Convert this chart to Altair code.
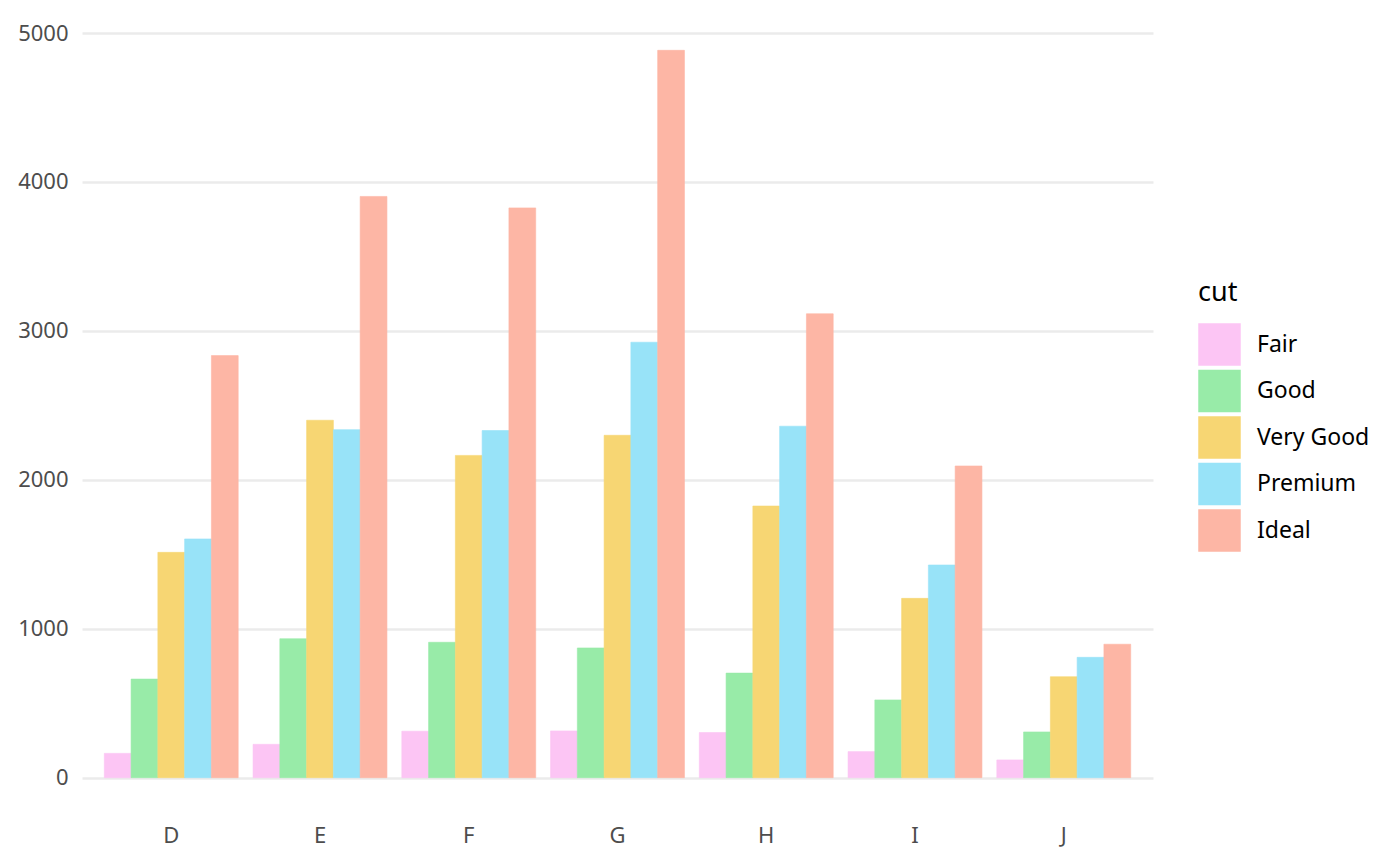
import altair as alt
import pandas as pd

colors = ["D", "E", "F", "G", "H", "I", "J"]
cuts = ["Fair", "Good", "Very Good", "Premium", "Ideal"]
fair = [163, 224, 312, 314, 303, 175, 119]
good = [662, 933, 909, 871, 702, 522, 307]
very_good = [1513, 2400, 2164, 2299, 1824, 1204, 678]
premium = [1603, 2337, 2331, 2924, 2360, 1428, 808]
ideal = [2834, 3903, 3826, 4884, 3115, 2093, 896]
palette = ["#FCC5F4", "#98EBA8", "#F7D673", "#98E3F8", "#FDB6A5"]
y_ticks = [0, 1000, 2000, 3000, 4000, 5000]

series = {"Fair": fair, "Good": good, "Very Good": very_good, "Premium": premium, "Ideal": ideal}
rows = []
for cut in cuts:
    for c, v in zip(colors, series[cut]):
        rows.append({"color": c, "cut": cut, "count": v})
df = pd.DataFrame(rows)

FONT = "Noto Sans"

color_scale = alt.Scale(domain=cuts, range=palette)

chart = alt.Chart(df).mark_bar(strokeWidth=0.6).encode(
    x=alt.X("color:N", sort=colors,
            scale=alt.Scale(paddingInner=0.1, paddingOuter=0.15),
            axis=alt.Axis(title=None, labelAngle=0, domain=False, ticks=False,
                          grid=False, labelFontSize=22, labelColor="#4d4d4d",
                          labelPadding=11, labelFont=FONT)),
    xOffset=alt.XOffset("cut:N", sort=cuts,
                        scale=alt.Scale(paddingInner=0, paddingOuter=0)),
    y=alt.Y("count:Q",
            scale=alt.Scale(domain=[-244, 5128], zero=False, nice=False),
            axis=alt.Axis(title=None, values=y_ticks, format="d", domain=False, ticks=False,
                          grid=True, gridColor="#ebebeb", gridWidth=2.4,
                          labelFontSize=22, labelColor="#4d4d4d",
                          labelPadding=14, labelFont=FONT)),
    stroke=alt.Stroke("cut:N", sort=cuts, scale=color_scale, legend=None),
    color=alt.Color("cut:N", sort=cuts,
                    scale=color_scale,
                    legend=alt.Legend(title="cut", orient="none",
                                      legendX=1116, legendY=266,
                                      symbolType="square", symbolSize=1806,
                                      symbolStrokeWidth=0, symbolOpacity=1,
                                      rowPadding=3.5, labelOffset=16,
                                      labelFontSize=23, labelFont=FONT,
                                      labelColor="#000000",
                                      titleFontSize=27, titleFont=FONT,
                                      titleFontWeight="normal", titleColor="#000000",
                                      titlePadding=16)),
).properties(
    width=1071, height=800,
    padding={"left": 9, "top": 6, "right": 5, "bottom": 5},
).configure_view(stroke=None)

chart.save("out.html", embed_options={"renderer": "svg", "actions": False})
